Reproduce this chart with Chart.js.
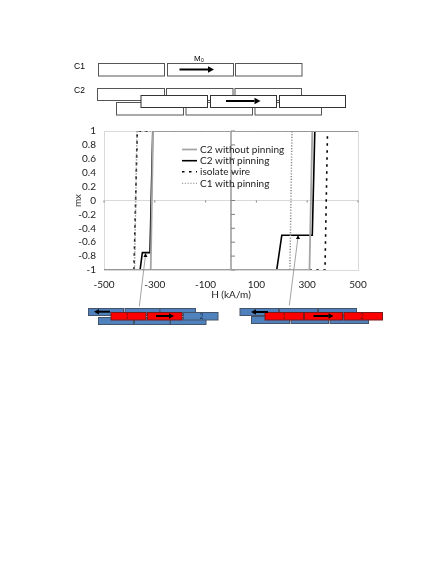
<!DOCTYPE html>
<html><head><meta charset="utf-8">
<style>html,body{margin:0;padding:0;background:#fff}canvas{display:block}</style>
<script src="https://cdn.jsdelivr.net/npm/chart.js@4"></script>
</head><body><canvas id="c" width="436" height="564"></canvas>
<script>
const xTicks = [-500,-300,-100,100,300,500];
const seriesNames = ['C2 without pinning','C2 with pinning','isolate wire','C1 with pinning'];
const without_H = [500,-307,-316,-500,309,320,500];
const without_m = [1,1,-1,-1,-1,1,1];
const pinned_H = [500,-308,-319,-349,-358,-500,180,200,320,330,500];
const pinned_m = [1,1,-0.75,-0.75,-1,-1,-1,-0.5,-0.5,1,1];
const isolate_H = [500,-369,-382,-500,370,380,500];
const isolate_m = [1,1,-1,-1,-1,1,1];
const c1_H = [500,-370,-380,-500,232,240,500];
const c1_m = [1,1,-1,-1,-1,1,1];
const zip=(a,b)=>a.map((x,i)=>({x,y:b[i]}));
const SANS='Lato, sans-serif', ARIAL='"Liberation Sans", Arial, sans-serif';
const styles=[
 {borderColor:'#a6a6a6',borderWidth:1.8,order:2},
 {borderColor:'#000',borderWidth:1.6,order:3},
 {borderColor:'#000',borderWidth:1.6,borderDash:[2.5,4.5],order:4},
 {borderColor:'#8c8c8c',borderWidth:1.5,borderDash:[1.2,1.6],order:1}
];
const rawData=[zip(without_H,without_m),zip(pinned_H,pinned_m),zip(isolate_H,isolate_m),zip(c1_H,c1_m)];
function box(g,x0,y0,x1,y1,fill,stroke,w){g.fillStyle=fill;g.strokeStyle=stroke;g.lineWidth=w||1;g.fillRect(x0,y0,x1-x0,y1-y0);g.strokeRect(x0,y0,x1-x0,y1-y0);}
function arrow(g,x0,x1,y,w,head){
 const d=x1>x0?1:-1;g.strokeStyle='#000';g.fillStyle='#000';g.lineWidth=w;g.setLineDash([]);
 g.beginPath();g.moveTo(x0,y);g.lineTo(x1-d*head,y);g.stroke();
 g.beginPath();g.moveTo(x1,y);g.lineTo(x1-d*head,y-head*.55);g.lineTo(x1-d*head,y+head*.55);g.closePath();g.fill();
}
function pointer(g,x0,y0,x1,y1){
 g.strokeStyle='#8c8c8c';g.lineWidth=.8;g.beginPath();g.moveTo(x0,y0);g.lineTo(x1,y1);g.stroke();
 g.fillStyle='#000';g.beginPath();g.moveTo(x1,y1-2);g.lineTo(x1-2,y1+2);g.lineTo(x1+2,y1+2);g.closePath();g.fill();
}
const frame={id:'frame',beforeDatasetsDraw(ch){
 const g=ch.ctx,X=ch.scales.x,Y=ch.scales.y,x0=X.getPixelForValue(0),y0=Y.getPixelForValue(0);
 g.save();g.strokeStyle='#7f7f7f';g.lineWidth=1.2;g.beginPath();
 g.moveTo(x0,Y.top);g.lineTo(x0,Y.bottom);
 g.stroke();g.lineWidth=1;g.beginPath();
 Y.ticks.forEach(t=>{const p=Y.getPixelForValue(t.value);g.moveTo(x0,p);g.lineTo(x0+4,p);});
 xTicks.forEach(v=>{const p=X.getPixelForValue(v);g.moveTo(p,y0);g.lineTo(p,y0+2);});
 g.stroke();g.restore();
}};
const sketch={id:'sketch',afterDraw(ch){
 const g=ch.ctx;g.save();g.setLineDash([]);
 g.font='8.5px '+ARIAL;g.fillStyle='#000';g.textAlign='left';g.textBaseline='middle';
 g.fillText('C1',74,67);g.fillText('C2',74,91);
 g.font='8px '+ARIAL;g.fillText('M',194,59);g.font='5px '+ARIAL;g.fillText('0',201,61);
 [[98.5,164.5],[167.5,233.5],[235.5,302]].forEach(r=>box(g,r[0],63.5,r[1],76,'#fff','#555'));
 arrow(g,179.5,214,69.5,2,6);
 [[97.5,164.5],[166.5,233],[235,301.5]].forEach(r=>box(g,r[0],88.5,r[1],100.5,'#fff','#555'));
 [[116.5,183.5],[186,252.5],[255,321.5]].forEach(r=>box(g,r[0],102.5,r[1],115,'#fff','#555'));
 [[141,207.5],[210.5,276.5],[279.5,345.5]].forEach(r=>box(g,r[0],95.5,r[1],107.5,'#fff','#333'));
 arrow(g,226,260.5,101,2,6);
 const B='#4f81bd',BE='#44546a',R='#ff0000',RE='#7a1a1a';
 [[88.5,123.5],[125,160],[160,195.5]].forEach(r=>box(g,r[0],308.5,r[1],315.5,B,BE));
 [[98.5,133.5],[134.5,170],[170.5,206]].forEach(r=>box(g,r[0],317.5,r[1],324.5,B,BE));
 box(g,111,312.5,146,320,R,RE);box(g,147.5,312.5,182,320,R,RE);box(g,183.5,312.5,218,320,B,BE);
 g.font='7px '+SANS;g.fillStyle='#7a1010';g.textAlign='center';g.fillText('1',127,316.5);
 g.fillStyle='#1f3350';g.fillText('2',201.5,316.5);
 arrow(g,110,94,311.7,2,5);arrow(g,156,174,316,2,5);
 [[240,278.5],[279.5,317.5],[318.5,356.5]].forEach(r=>box(g,r[0],308.5,r[1],315.5,B,BE));
 [[251.5,289.5],[291,328.5],[330,368.5]].forEach(r=>box(g,r[0],316.5,r[1],323.5,B,BE));
 [[265,303.5],[304.5,342.5],[344,382.5]].forEach(r=>box(g,r[0],312.5,r[1],320,R,RE));
 g.fillStyle='#7a1010';g.fillText('1',284,316.5);g.fillText('2',362,316.5);
 arrow(g,268,251,312,2,5);arrow(g,313.5,333.5,316,2,5);
 pointer(g,139.3,306.5,145.5,255);pointer(g,289.3,305.5,298,237);
 const rows=[149.5,160.7,171.8,183.3];
 g.textAlign='left';g.font='10px '+SANS;
 seriesNames.forEach((n,i)=>{
  const s=styles[i];g.strokeStyle=s.borderColor;g.lineWidth=i===3?1:s.borderWidth;g.setLineDash(s.borderDash||[]);
  g.beginPath();g.moveTo(182,rows[i]);g.lineTo(197,rows[i]);g.stroke();
  g.setLineDash([]);g.fillStyle='#222';g.fillText(n,200,rows[i]);
 });
 g.restore();
}};
new Chart(document.getElementById('c'),{
 type:'line',
 data:{datasets:seriesNames.map((n,i)=>Object.assign({label:n,data:rawData[i],pointRadius:0,tension:0,fill:false},styles[i]))},
 options:{
  responsive:false,animation:false,devicePixelRatio:1,
  layout:{padding:{left:72,right:78,top:131,bottom:263}},
  plugins:{legend:{display:false},tooltip:{enabled:false}},
  scales:{
   x:{type:'linear',min:-500,max:500,
    afterBuildTicks(s){s.ticks=xTicks.map(v=>({value:v}));},
    afterFit(s){s.height=31;},
    border:{color:'#d9d9d9'},
    grid:{drawTicks:false,color:c=>Math.abs(c.tick.value)===500?'#d9d9d9':'transparent'},
    ticks:{padding:9,maxRotation:0,autoSkip:false,color:'#222',font:{family:SANS,size:10},callback:v=>String(v)},
    title:{display:true,text:'H (kA/m)',color:'#222',font:{family:SANS,size:10},padding:{top:0,bottom:0}}
   },
   y:{min:-1,max:1,
    afterFit(s){s.width=32;},
    border:{color:'#d9d9d9'},
    grid:{drawTicks:false,color:c=>[0,1,-1].includes(Math.round(c.tick.value*10)/10)?'#d9d9d9':'transparent'},
    ticks:{stepSize:0.2,padding:8,autoSkip:false,color:'#222',font:{family:SANS,size:10},callback:v=>String(Math.round(v*10)/10)},
    title:{display:true,text:'mx',color:'#222',font:{family:SANS,size:10},padding:{top:0,bottom:0}}
   }
  }
 },
 plugins:[frame,sketch]
});
</script></body></html>
